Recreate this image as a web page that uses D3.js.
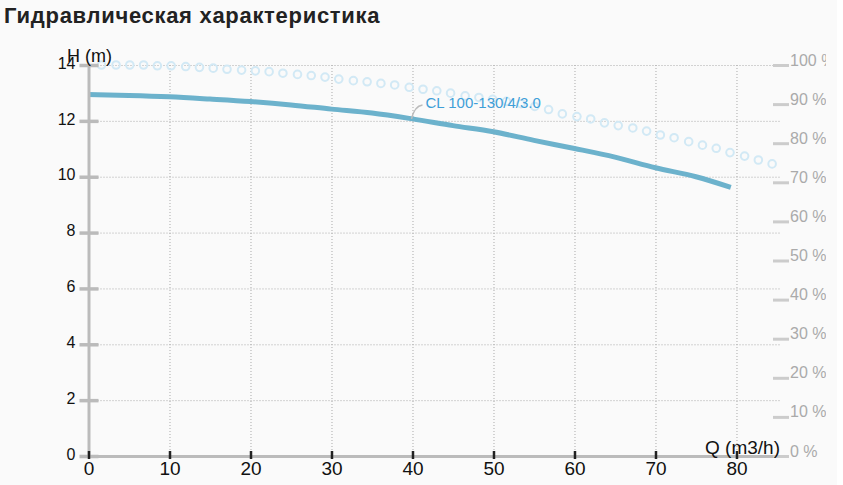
<!DOCTYPE html>
<html>
<head>
<meta charset="utf-8">
<script src="https://cdn.jsdelivr.net/npm/d3@7"></script>
<style>
  html, body { margin: 0; padding: 0; background: #fff; }
  #wrap { width: 837px; height: 485px; background: #fafafa; }
  svg { display: block; overflow: hidden; font-family: "Liberation Sans", Arial, sans-serif; }
</style>
</head>
<body>
<div id="wrap"><svg id="chart"></svg></div>
<script>
// head curve, H (m) against Q (m3/h)
const headQ = [0, 5, 10, 15, 20, 25, 30, 35, 40, 45, 50, 55, 60, 65, 70, 75, 79.3];
const headH = [12.94, 12.91, 12.86, 12.78, 12.69, 12.57, 12.42, 12.28, 12.07, 11.83, 11.61, 11.30, 11.01, 10.70, 10.32, 10.00, 9.62];

// efficiency, % against Q (m3/h)
const effQ = [1.6, 3.4, 5.1, 6.8, 8.5, 10.2, 12.0, 13.7, 15.4, 17.1, 18.9, 20.6, 22.3, 24.0, 25.8, 27.5,
  29.2, 30.9, 32.7, 34.4, 36.1, 37.8, 39.6, 41.3, 43.0, 44.7, 46.5, 48.2, 49.9, 51.6, 53.4, 55.1,
  56.8, 58.5, 60.3, 62.0, 63.7, 65.4, 67.2, 68.9, 70.6, 72.3, 74.1, 75.8, 77.5, 79.2, 81.0, 82.7, 84.4];
const effPct = [100, 100, 100, 100, 99.8, 99.8, 99.6, 99.4, 99.2, 98.9, 98.7, 98.5, 98.3, 97.9, 97.6, 97.3,
  96.9, 96.4, 96.0, 95.7, 95.3, 94.9, 94.3, 93.8, 93.4, 92.8, 92.1, 91.7, 91.2, 90.7, 90.1, 89.4,
  88.6, 87.5, 86.8, 86.2, 85.2, 84.5, 83.9, 83.1, 82.1, 81.4, 80.4, 79.5, 78.7, 77.6, 76.7, 75.7, 74.7];

const xTicks = [0, 10, 20, 30, 40, 50, 60, 70, 80];
const yTicks = [0, 2, 4, 6, 8, 10, 12, 14];
const pctTicks = [0, 10, 20, 30, 40, 50, 60, 70, 80, 90, 100];

const title = "Гидравлическая характеристика";
const pumpName = "CL 100-130/4/3.0";

const width = 826, height = 485;
const svg = d3.select("#chart").attr("width", width).attr("height", height);

const x = d3.scaleLinear().domain([0, 85.2]).range([88.5, 778.6]);
const y = d3.scaleLinear().domain([0, 14]).range([456, 65]);
const yPct = d3.scaleLinear().domain([0, 100]).range([456, 65]);

svg.append("text")
  .attr("x", 4).attr("y", 23)
  .attr("font-size", 22).attr("font-weight", "bold")
  .attr("letter-spacing", 0.7)
  .attr("fill", "#222")
  .text(title);

// grid
const grid = svg.append("g").attr("stroke", "#aaa").attr("stroke-width", 1).attr("stroke-dasharray", "1,2");
grid.selectAll(".vg").data(xTicks.slice(1)).join("line")
  .attr("x1", d => x(d) + 0.5).attr("x2", d => x(d) + 0.5)
  .attr("y1", y(0)).attr("y2", y(14));
grid.selectAll(".hg").data(yTicks.slice(1)).join("line")
  .attr("x1", x(0)).attr("x2", x(85.2) + 2)
  .attr("y1", d => y(d) + 0.5).attr("y2", d => y(d) + 0.5);

// efficiency circles
svg.append("g").selectAll("circle").data(effQ).join("circle")
  .attr("cx", d => x(d))
  .attr("cy", (d, i) => yPct(effPct[i]))
  .attr("r", 3.8)
  .attr("fill", "none")
  .attr("stroke", "#d2e9f5")
  .attr("stroke-width", 2);

// head line
const line = d3.line()
  .x(d => x(d))
  .y((d, i) => y(headH[i]))
  .curve(d3.curveMonotoneX);
svg.append("path")
  .attr("d", line(headQ))
  .attr("fill", "none")
  .attr("stroke", "#6cb2cc")
  .attr("stroke-width", 5);

// series label
const lx = x(headQ[8]), ly = y(headH[8]);
svg.append("path")
  .attr("d", `M${lx - 1},${ly} Q${lx + 2},${ly - 13} ${lx + 10},${ly - 14}`)
  .attr("fill", "none").attr("stroke", "#bbb").attr("stroke-width", 1.5);
svg.append("text")
  .attr("x", lx + 13).attr("y", ly - 10.5)
  .attr("font-size", 15).attr("fill", "#3f9fd8")
  .text(pumpName);

// left axis
const gy = svg.append("g").attr("transform", `translate(${x(0)},0)`)
  .call(d3.axisLeft(y).tickValues(yTicks).tickSizeOuter(0));
gy.select(".domain").attr("stroke", "#bbb").attr("stroke-width", 3);
gy.selectAll(".tick line").attr("x1", 10).attr("x2", -9).attr("stroke", "#bbb").attr("stroke-width", 3.5);
gy.selectAll(".tick text").attr("x", -13).attr("dy", "0.2em")
  .attr("font-size", 16).attr("fill", "#111").attr("font-family", null);

// bottom axis
const gx = svg.append("g").attr("transform", `translate(0,${y(0)})`)
  .call(d3.axisBottom(x).tickValues(xTicks).tickSizeOuter(0));
gx.select(".domain").attr("stroke", "#bbb").attr("stroke-width", 3);
gx.selectAll(".tick line").attr("y1", -5).attr("y2", 3).attr("stroke", "#222").attr("stroke-width", 2.5);
gx.selectAll(".tick text").attr("y", 19).attr("dy", 0)
  .attr("font-size", 19).attr("fill", "#111").attr("font-family", null);

// right axis (efficiency)
const gr = svg.append("g").attr("transform", `translate(773,0)`)
  .call(d3.axisRight(yPct).tickValues(pctTicks).tickSize(16).tickFormat(d => d + " %"));
gr.select(".domain").remove();
gr.selectAll(".tick line").attr("stroke", "#ccc").attr("stroke-width", 3);
gr.selectAll(".tick text").attr("x", 17).attr("dy", 0)
  .attr("font-size", 16).attr("fill", "#aaa").attr("font-family", null);

// axis titles
svg.append("text")
  .attr("x", 67).attr("y", 62)
  .attr("font-size", 18).attr("fill", "#111")
  .text("H (m)");
svg.append("text")
  .attr("x", 780).attr("y", 454)
  .attr("text-anchor", "end")
  .attr("font-size", 19).attr("fill", "#111")
  .text("Q (m3/h)");
</script>
</body>
</html>
